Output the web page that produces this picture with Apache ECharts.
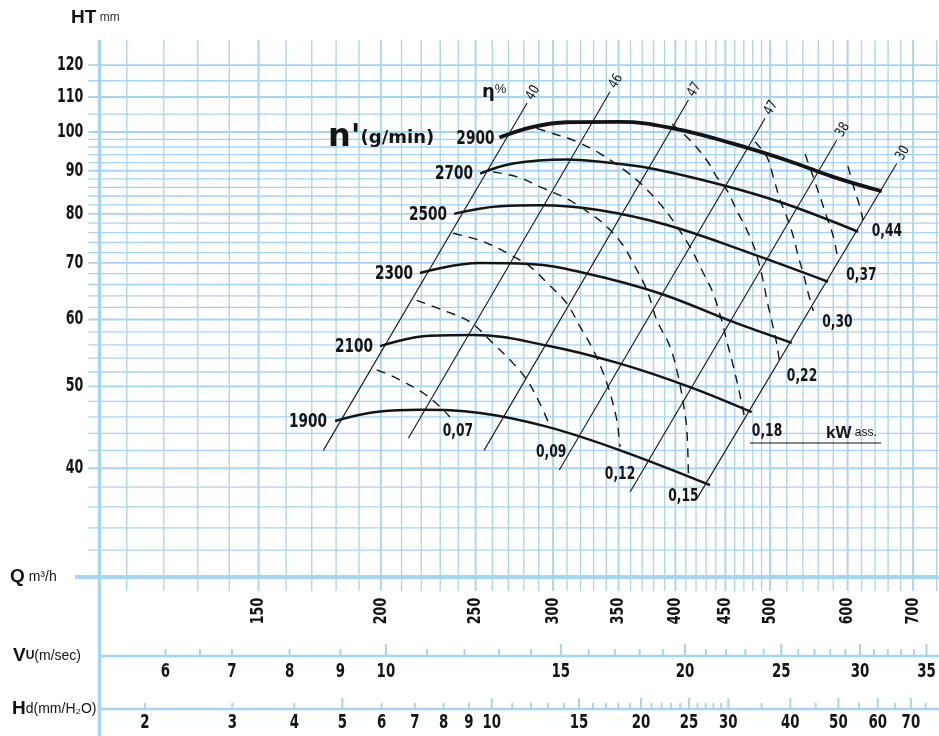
<!DOCTYPE html>
<html>
<head>
<meta charset="utf-8">
<script src="https://cdn.jsdelivr.net/npm/echarts@6/dist/echarts.min.js"></script>
<style>
html,body{margin:0;padding:0;background:#ffffff;}
#chart{width:939px;height:736px;}
</style>
</head>
<body>
<div id="chart"></div>
<script>
// ---------------- data ----------------
const qGridValues = [110,120,130,140,150,160,170,180,190,200,210,220,230,240,250,260,270,280,290,300,310,320,330,340,350,360,370,380,390,400,410,420,430,440,450,460,470,480,490,500,520,540,560,580,600,620,640,660,680,700,740];
const qTickLabels = [150,200,250,300,350,400,450,500,600,700];
const htGridValues = [32,34,36,38,40,42,44,46,48,50,52,54,56,58,60,62,64,66,68,70,72,74,76,78,80,82,84,86,88,90,92,94,96,98,100,105,110,115,120];
const htTickLabels = [40,50,60,70,80,90,100,110,120];
const vuTickValues = [6,6.5,7,8,9,10,11,12,13,14,15,16,17,18,19,20,21,22,23,24,25,26,27,28,29,30,31,32,33,34,35];
const vuTickLabels = [6,7,8,9,10,15,20,25,30,35];
const vuMajorTicks = [10,15,20,25,30,35];
const hdTickValues = [2,3,4,5,6,7,8,9,10,11,12,13,14,15,16,17,18,19,20,21,22,23,24,25,26,27,28,29,30,35,40,45,50,55,60,65,70,75];
const hdTickLabels = [2,3,4,5,6,7,8,9,10,15,20,25,30,40,50,60,70];
const hdMajorTicks = [5,10,15,20,25,30,40,50,60,70];

// speed curves n' (g/min): [Q m3/h, HT mm]
const speedNames = ['1900','2100','2300','2500','2700','2900'];
const speed1900 = [[179.6,45.5],[199.6,46.7],[219.3,46.9],[252.6,46.5],[295.5,44.8],[351.2,42.0],[434.1,38.2]];
const speed2100 = [[199.6,55.8],[224.5,57.4],[248.5,57.5],[295.5,55.9],[351.2,53.2],[414.1,49.9],[478.8,46.6]];
const speed2300 = [[219.3,68.1],[252.6,70.0],[284.2,69.8],[324.7,68.0],[385.9,64.4],[458.2,59.6],[526.1,56.3]];
const speed2500 = [[237.6,80.0],[264.8,81.7],[290.9,81.9],[335.0,80.8],[392.3,77.6],[476.9,71.9],[573.0,66.5]];
const speed2700 = [[252.6,89.3],[273.1,91.8],[309.8,92.8],[335.0,92.2],[376.9,90.6],[447.5,86.5],[515.4,82.4],[615.0,76.2]];
const speed2900 = [[264.4,98.5],[286.2,101.4],[309.8,102.7],[351.2,102.8],[397.9,101.0],[458.2,96.9],[519.9,92.6],[579.8,88.5],[650.2,85.1]];

// efficiency lines eta %
const etaLabels = ['40','46','47','47','38','30'];
const etaTop = [[282.2,108.2],[343.0,111.6],[412.5,109.1],[494.1,103.8],[584.8,97.8],[673.6,91.8]];
const etaBottom = [[174.7,42.0],[213.4,43.4],[255.0,42.0],[304.4,39.8],[359.6,37.5],[420.7,36.8]];

// absorbed power curves kW
const powerLabels = ['0,07','0,09','0,12','0,15','0,18','0,22','0,30','0,37','0,44'];
const p007 = [[198.1,52.3],[207.7,51.1],[221.0,49.1],[229.9,47.3],[235.3,46.0]];
const p009 = [[217.6,63.2],[233.6,61.3],[246.7,59.6],[260.6,56.2],[273.3,53.2],[282.0,50.9],[290.9,47.7],[297.9,44.8]];
const p012 = [[237.1,75.9],[254.4,74.2],[269.2,71.9],[284.2,69.3],[295.7,66.3],[309.8,62.7],[319.7,58.8],[329.8,55.2],[337.7,51.8],[343.0,49.1],[348.5,45.6],[351.2,42.4]];
const p015 = [[260.4,89.7],[275.6,88.5],[293.1,85.8],[309.8,83.4],[327.2,80.1],[339.0,77.6],[352.6,73.8],[362.4,69.9],[374.1,65.0],[382.9,59.9],[395.1,55.7],[402.9,51.3],[407.6,47.7],[411.0,44.4],[412.5,39.1]];
const p018 = [[288.6,101.0],[300.0,99.6],[317.2,97.4],[335.0,94.3],[356.8,89.7],[371.0,86.3],[387.7,81.7],[401.3,77.4],[414.6,72.9],[427.2,68.1],[436.6,64.7],[446.0,59.9],[451.8,56.4],[458.2,53.0],[465.3,49.1],[471.3,45.6]];
const p022 = [[396.9,102.2],[414.1,97.8],[430.7,92.6],[440.9,88.5],[451.5,85.4],[462.2,80.8],[473.3,76.6],[482.5,72.5],[491.7,66.8],[496.3,63.2],[502.1,59.6],[508.2,55.9],[511.8,52.7]];
const p030 = [[482.5,97.4],[496.0,93.5],[503.7,88.5],[511.8,83.1],[519.9,79.4],[528.1,75.2],[534.3,71.2],[540.6,68.0],[547.0,64.4],[553.5,61.4]];
const p037 = [[542.9,94.2],[557.9,86.1],[571.2,79.4],[580.2,75.2],[587.1,70.2]];
const p044 = [[600.5,91.1],[610.6,85.0],[617.8,81.5],[622.1,78.7]];

// ---------------- styling / layout ----------------
const FN = "'Liberation Sans Narrow','DejaVu Sans Condensed','DejaVu Sans',sans-serif";
const FS = "'Liberation Sans','DejaVu Sans',sans-serif";
const GRID_C = '#a5d4f4';
const INK = '#141414';
const NARROW = 0.78;
const Q_MIN = 103.1, Q_MAX = 744, HT_MIN = 29.66, HT_MAX = 128.5;
const VU_MIN = 5.147, VU_MAX = 36.03, HD_MIN = 1.618, HD_MAX = 79.76;
const VU_Y = 656, HD_Y = 709;
const powerLabelOffset = [[8,14],[1,26],[0,27],[-5,20],[22,11],[22,9],[24,11],[23,13],[24,11]];
const speedLabelDist = [8,7,7,7,7,5];

const speedCurves = [speed1900, speed2100, speed2300, speed2500, speed2700, speed2900];
const powerCurves = [p007, p009, p012, p015, p018, p022, p030, p037, p044];

function txt(x, y, s, font, align, scaleX, rotation) {
  return {type:'text', x:x, y:y, rotation:rotation || 0, scaleX:scaleX || 1,
    style:{text:s, align:align || 'center', verticalAlign:'middle', font:font, fill:INK}};
}

const series = [];

// vertical grid lines (Q)
series.push({
  type:'custom', xAxisIndex:0, yAxisIndex:0, z:1, silent:true,
  data: qGridValues.map(q => [q, HT_MIN]),
  renderItem: (p, api) => {
    const q = api.value(0);
    const a = api.coord([q, HT_MAX]), b = api.coord([q, HT_MIN]);
    const major = qTickLabels.indexOf(q) >= 0;
    return {type:'line', shape:{x1:a[0], y1:a[1], x2:b[0], y2:b[1]+13}, style:{stroke:GRID_C, lineWidth: major ? 1.9 : 1.3}};
  }
});
// horizontal grid lines (HT)
series.push({
  type:'custom', xAxisIndex:0, yAxisIndex:0, z:1, silent:true,
  data: htGridValues.map(h => [Q_MIN, h]),
  renderItem: (p, api) => {
    const h = api.value(1);
    const a = api.coord([Q_MIN, h]), b = api.coord([Q_MAX, h]);
    const major = h % 10 === 0;
    return {type:'line', shape:{x1:a[0]-11, y1:a[1], x2:b[0], y2:b[1]}, style:{stroke:GRID_C, lineWidth: major ? 1.9 : 1.3}};
  }
});
// HT tick labels
series.push({
  type:'custom', xAxisIndex:0, yAxisIndex:0, z:3, silent:true,
  data: htTickLabels.map(h => [Q_MIN, h]),
  renderItem: (p, api) => {
    const h = api.value(1);
    const a = api.coord([Q_MIN, h]);
    return txt(a[0]-16, a[1], String(h), 'bold 19px ' + FN, 'right', 0.74);
  }
});
// Q tick labels
series.push({
  type:'custom', xAxisIndex:0, yAxisIndex:0, z:3, silent:true,
  data: qTickLabels.map(q => [q, HT_MIN]),
  renderItem: (p, api) => {
    const q = api.value(0);
    const a = api.coord([q, HT_MIN]);
    return txt(a[0], a[1]+33, String(q), 'bold 18px ' + FN, 'center', NARROW, Math.PI/2);
  }
});
// Vu scale
series.push({
  type:'custom', xAxisIndex:1, yAxisIndex:0, z:3, silent:true,
  data: vuTickValues.map(v => [v, HT_MIN]),
  renderItem: (p, api) => {
    const v = api.value(0);
    const x = api.coord([v, HT_MIN])[0];
    const len = vuMajorTicks.indexOf(v) >= 0 ? 12 : 7;
    const ch = [{type:'line', shape:{x1:x, y1:VU_Y-len, x2:x, y2:VU_Y}, style:{stroke:GRID_C, lineWidth:2}}];
    if (vuTickLabels.indexOf(v) >= 0) ch.push(txt(x, VU_Y+16, String(v), 'bold 19px ' + FN, 'center', NARROW));
    return {type:'group', children:ch};
  }
});
// Hd scale
series.push({
  type:'custom', xAxisIndex:2, yAxisIndex:0, z:3, silent:true,
  data: hdTickValues.map(v => [v, HT_MIN]),
  renderItem: (p, api) => {
    const v = api.value(0);
    const x = api.coord([v, HT_MIN])[0];
    const len = hdMajorTicks.indexOf(v) >= 0 ? 11 : 6;
    const ch = [{type:'line', shape:{x1:x, y1:HD_Y-len, x2:x, y2:HD_Y}, style:{stroke:GRID_C, lineWidth:2}}];
    if (hdTickLabels.indexOf(v) >= 0) ch.push(txt(x, HD_Y+14, String(v), 'bold 19px ' + FN, 'center', NARROW));
    return {type:'group', children:ch};
  }
});

// efficiency lines
etaLabels.forEach((lab, i) => {
  series.push({
    type:'line', xAxisIndex:0, yAxisIndex:0, z:4, silent:true, symbol:'none',
    lineStyle:{color:INK, width:1.1},
    data:[etaBottom[i], etaTop[i]]
  });
});
// eta labels, written along each line beyond its upper end
series.push({
  type:'custom', xAxisIndex:0, yAxisIndex:0, z:6, silent:true,
  data: etaTop,
  renderItem: (p, api) => {
    const i = p.dataIndex;
    const t = api.coord(etaTop[i]), b = api.coord(etaBottom[i]);
    const ang = Math.atan2(b[1]-t[1], t[0]-b[0]);
    const x = t[0] + 5*Math.cos(ang), y = t[1] - 5*Math.sin(ang);
    return txt(x, y, etaLabels[i], '14px ' + FN, 'left', 0.88, ang);
  }
});
// power curves
powerCurves.forEach((pts, i) => {
  series.push({
    type:'line', xAxisIndex:0, yAxisIndex:0, z:4, silent:true, symbol:'none', smooth:0.35,
    lineStyle:{color:INK, width:1.4, type:[9,7]},
    data: pts
  });
});
series.push({
  type:'custom', xAxisIndex:0, yAxisIndex:0, z:6, silent:true,
  data: powerCurves.map(c => c[c.length-1]),
  renderItem: (p, api) => {
    const i = p.dataIndex;
    const a = api.coord([api.value(0), api.value(1)]);
    return txt(a[0]+powerLabelOffset[i][0], a[1]+powerLabelOffset[i][1], powerLabels[i], 'bold 18px ' + FN, 'center', 0.76);
  }
});
// speed curves
speedCurves.forEach((pts, i) => {
  series.push({
    type:'line', xAxisIndex:0, yAxisIndex:0, z:5, silent:true, symbol:'none', smooth:0.4,
    lineStyle:{color:INK, width: i === 5 ? 3.8 : 2.5},
    data: pts
  });
});
series.push({
  type:'custom', xAxisIndex:0, yAxisIndex:0, z:6, silent:true,
  data: speedCurves.map(c => c[0]),
  renderItem: (p, api) => {
    const i = p.dataIndex;
    const a = api.coord([api.value(0), api.value(1)]);
    return txt(a[0]-speedLabelDist[i], a[1]+1, speedNames[i], 'bold 19px ' + FN, 'right', 0.8);
  }
});

const graphics = [
  {type:'line', z:2, silent:true, shape:{x1:99.5, y1:40, x2:99.5, y2:736}, style:{stroke:GRID_C, lineWidth:3.5}},
  {type:'line', z:2, silent:true, shape:{x1:75, y1:577, x2:939, y2:577}, style:{stroke:GRID_C, lineWidth:4}},
  {type:'line', z:2, silent:true, shape:{x1:99, y1:VU_Y, x2:939, y2:VU_Y}, style:{stroke:GRID_C, lineWidth:2.6}},
  {type:'line', z:2, silent:true, shape:{x1:99, y1:HD_Y, x2:939, y2:HD_Y}, style:{stroke:GRID_C, lineWidth:2.6}},
  {type:'line', z:6, silent:true, shape:{x1:750, y1:443, x2:881, y2:443}, style:{stroke:INK, lineWidth:1.2}},
  {type:'text', z:6, silent:true, x:71, y:18, style:{text:'{a|HT}{b| mm}', verticalAlign:'middle', rich:{a:{font:'bold 19px ' + FS, fill:INK}, b:{font:'12px ' + FS, fill:'#333'}}}},
  {type:'text', z:6, silent:true, x:10, y:577, style:{text:'{a|Q}{b| m³/h}', verticalAlign:'middle', rich:{a:{font:'bold 19px ' + FS, fill:INK}, b:{font:'14px ' + FS, fill:INK}}}},
  {type:'text', z:6, silent:true, x:13, y:656, style:{text:'{a|V}{c|U}{b|(m/sec)}', verticalAlign:'middle', rich:{a:{font:'bold 19px ' + FS, fill:INK}, c:{font:'bold 12px ' + FS, fill:INK}, b:{font:'14px ' + FS, fill:INK}}}},
  {type:'text', z:6, silent:true, x:12, y:709, style:{text:'{a|H}{b|d(mm/H₂O)}', verticalAlign:'middle', rich:{a:{font:'bold 19px ' + FS, fill:INK}, b:{font:'14px ' + FS, fill:INK}}}},
  {type:'text', z:6, silent:true, x:328, y:138, style:{text:"{a|n'}{b|(g/min)}", verticalAlign:'middle', rich:{a:{font:"bold 32px 'DejaVu Sans',sans-serif", fill:INK}, b:{font:"bold 18px 'DejaVu Sans',sans-serif", fill:INK}}}},
  {type:'text', z:6, silent:true, x:482, y:92, style:{text:'{a|η}{b|%}', verticalAlign:'middle', rich:{a:{font:"bold 18px 'DejaVu Sans',sans-serif", fill:INK}, b:{font:'13px ' + FS, fill:INK, verticalAlign:'top'}}}},
  {type:'text', z:6, silent:true, x:826, y:433, style:{text:'{a|kW}{b| ass.}', verticalAlign:'middle', rich:{a:{font:'bold 17px ' + FS, fill:INK}, b:{font:'12px ' + FS, fill:INK}}}}
];

const chart = echarts.init(document.getElementById('chart'), null, {renderer:'canvas'});
chart.setOption({
  animation:false,
  backgroundColor:'#ffffff',
  grid:{left:99.3, top:40, width:839.7, height:538, containLabel:false, outerBoundsMode:'none'},
  xAxis:[
    {type:'log', logBase:10, min:Q_MIN, max:Q_MAX, show:false, gridIndex:0},
    {type:'log', logBase:10, min:VU_MIN, max:VU_MAX, show:false, gridIndex:0},
    {type:'log', logBase:10, min:HD_MIN, max:HD_MAX, show:false, gridIndex:0}
  ],
  yAxis:[{type:'log', logBase:10, min:HT_MIN, max:HT_MAX, show:false, gridIndex:0}],
  tooltip:{show:false},
  graphic:{elements:graphics},
  series:series
});
</script>
</body>
</html>
